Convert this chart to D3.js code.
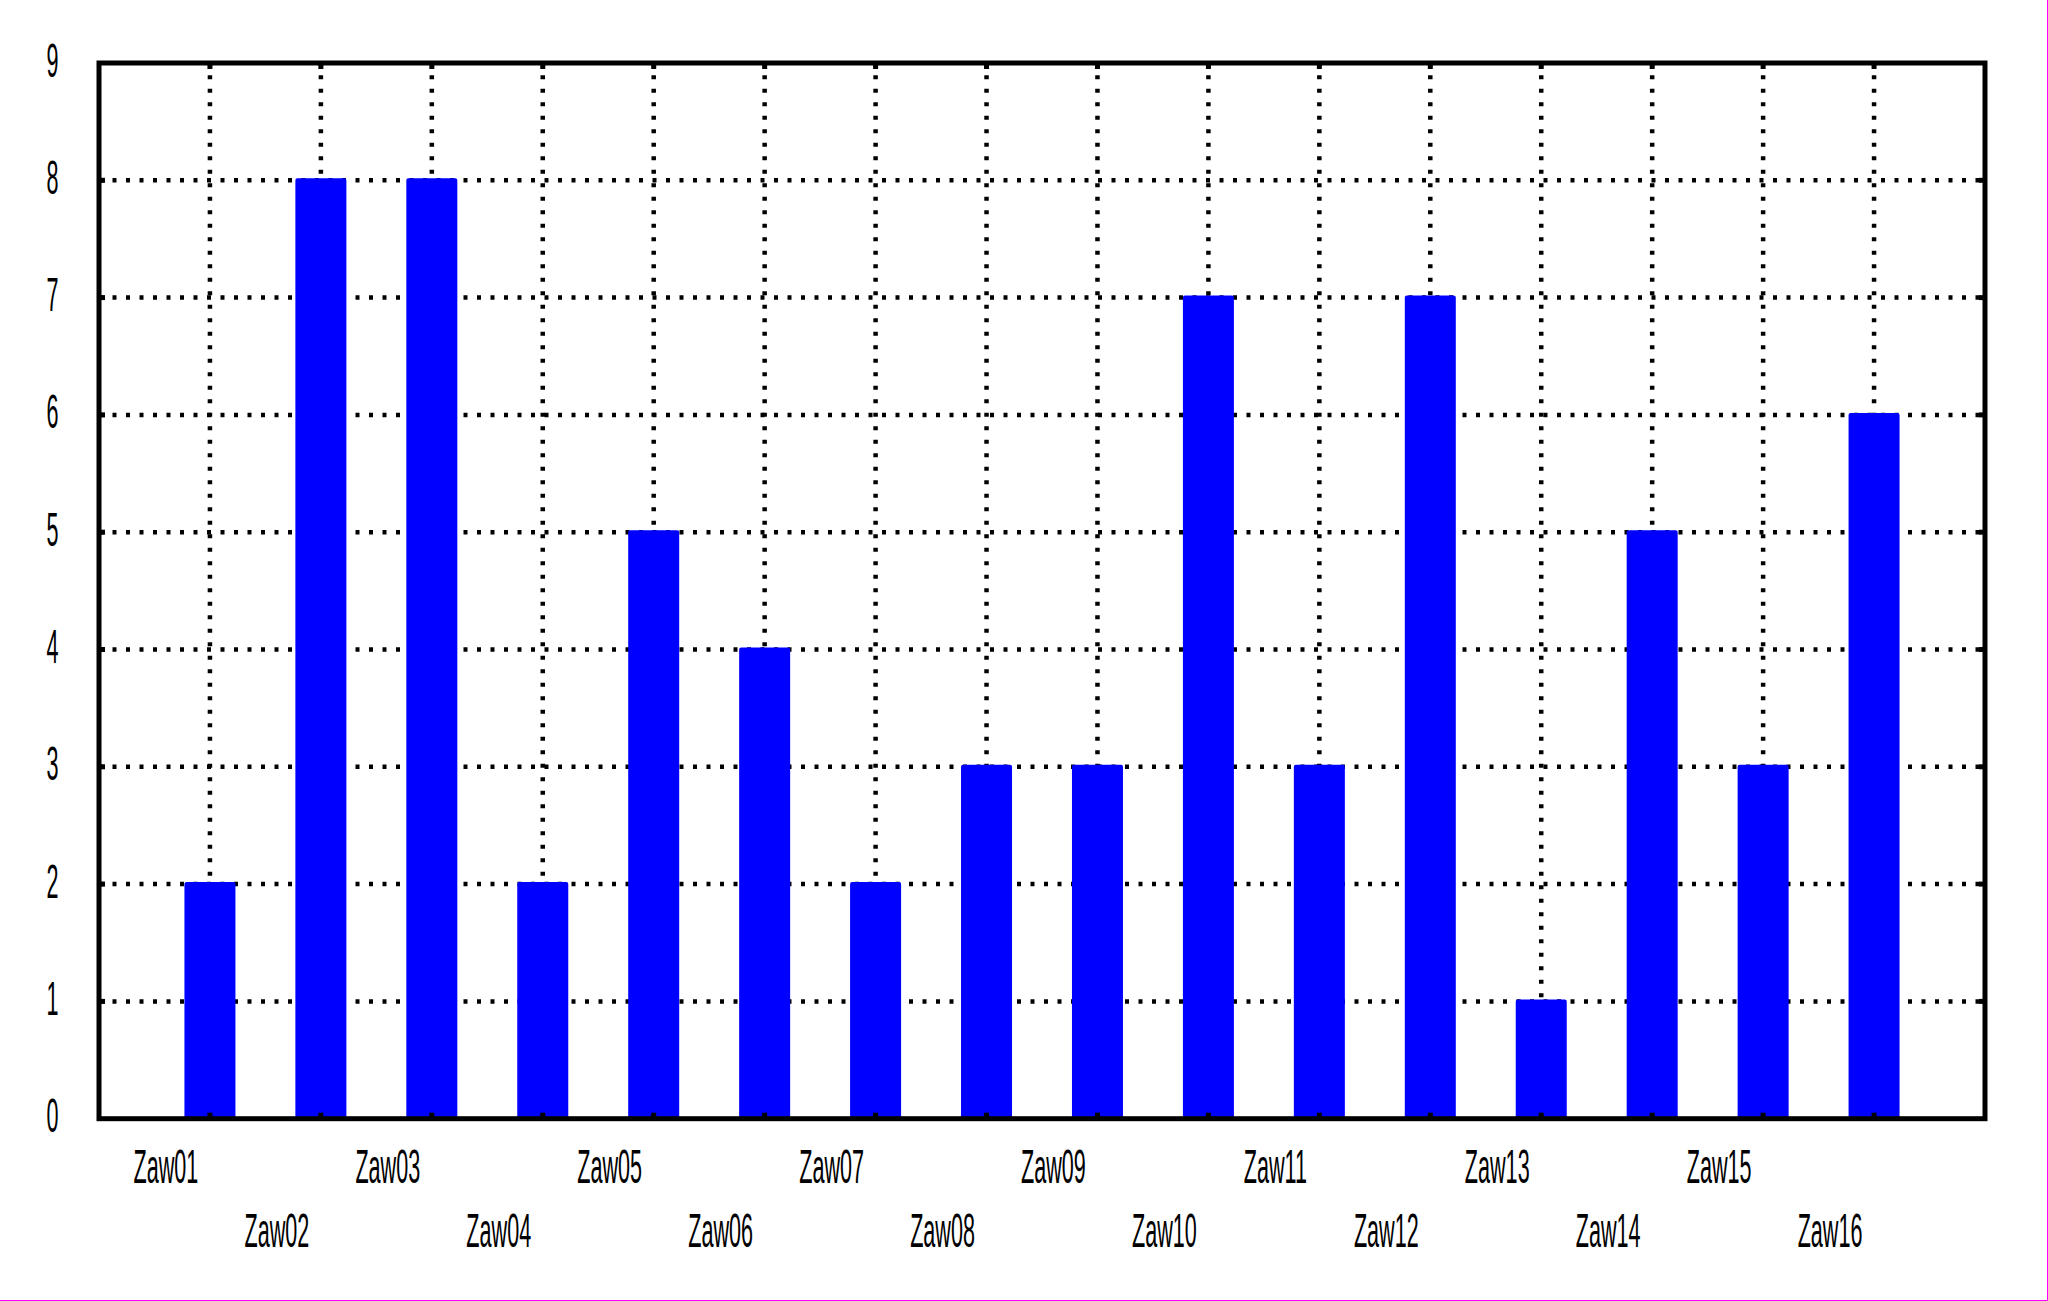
<!DOCTYPE html>
<html>
<head>
<meta charset="utf-8">
<script src="https://cdn.jsdelivr.net/npm/d3@7"></script>
<style>
  html, body { margin: 0; padding: 0; background: #ffffff; }
  svg { display: block; }
</style>
</head>
<body>
<script>
const categories = ["Zaw01","Zaw02","Zaw03","Zaw04","Zaw05","Zaw06","Zaw07","Zaw08",
                    "Zaw09","Zaw10","Zaw11","Zaw12","Zaw13","Zaw14","Zaw15","Zaw16"];
const values = [2, 8, 8, 2, 5, 4, 2, 3, 3, 7, 3, 7, 1, 5, 3, 6];
const yTicks = [0, 1, 2, 3, 4, 5, 6, 7, 8, 9];

(function () {
const W = 2048, H = 1301;
const pL = 99, pR = 1985, pT = 63, pB = 1118.7;

const svg = d3.select("body").append("svg").attr("width", W).attr("height", H);
svg.append("rect").attr("x", 0).attr("y", 0).attr("width", W).attr("height", H).attr("fill", "#fff");

const x = d3.scaleLinear().domain([0, categories.length + 1]).range([pL, pR]);
const y = d3.scaleLinear().domain([0, 9]).range([pB, pT]);

const dash = "4 9.5";
// horizontal grid
svg.append("g").selectAll("line").data(yTicks.filter(d => d > 0 && d < 9)).join("line")
  .attr("x1", pL).attr("x2", pR)
  .attr("y1", d => y(d)).attr("y2", d => y(d))
  .attr("stroke", "#000").attr("stroke-width", 4.5).attr("stroke-dasharray", dash);
// vertical grid
svg.append("g").selectAll("line").data(categories).join("line")
  .attr("x1", (d, i) => x(i + 1)).attr("x2", (d, i) => x(i + 1))
  .attr("y1", pB).attr("y2", pT)
  .attr("stroke", "#000").attr("stroke-width", 4.5).attr("stroke-dasharray", dash);

// bars
const bw = 47;
svg.append("g").selectAll("rect").data(values).join("rect")
  .attr("x", (d, i) => x(i + 1) - bw / 2)
  .attr("y", d => y(d))
  .attr("width", bw)
  .attr("height", d => pB - y(d))
  .attr("fill", "#0000ff").attr("stroke", "#0000ff")
  .attr("stroke-width", 4).attr("stroke-linejoin", "round");

// inward ticks
const tk = svg.append("g").attr("stroke", "#000").attr("stroke-width", 5);
categories.forEach((c, i) => {
  tk.append("line").attr("x1", x(i + 1)).attr("x2", x(i + 1)).attr("y1", pB).attr("y2", pB - 6);
  tk.append("line").attr("x1", x(i + 1)).attr("x2", x(i + 1)).attr("y1", pT).attr("y2", pT + 6);
});
yTicks.filter(d => d > 0 && d < 9).forEach(d => {
  tk.append("line").attr("x1", pL).attr("x2", pL + 6).attr("y1", y(d)).attr("y2", y(d));
  tk.append("line").attr("x1", pR).attr("x2", pR - 6).attr("y1", y(d)).attr("y2", y(d));
});

// frame
svg.append("rect").attr("x", pL).attr("y", pT).attr("width", pR - pL).attr("height", pB - pT)
  .attr("fill", "none").attr("stroke", "#000").attr("stroke-width", 5);

const font = "'Liberation Sans', Arial, sans-serif";
// y labels
svg.append("g").selectAll("text").data(yTicks).join("text")
  .attr("transform", d => `translate(52.5,${y(d) + 13.5}) scale(0.45,1)`)
  .attr("text-anchor", "middle").attr("font-family", font).attr("font-size", 48)
  .attr("fill", "#000").text(d => d);

// x labels (staggered)
svg.append("g").selectAll("text").data(categories).join("text")
  .attr("transform", (d, i) => `translate(${x(i + 1) - 44},${i % 2 === 0 ? 1183.3 : 1246.7}) scale(0.45,1)`)
  .attr("text-anchor", "middle").attr("font-family", font).attr("font-size", 48)
  .attr("fill", "#000").text(d => d);

// outer border
svg.append("line").attr("x1", 0).attr("x2", W).attr("y1", H - 0.5).attr("y2", H - 0.5)
  .attr("stroke", "#ff00ff").attr("stroke-width", 1);
svg.append("line").attr("x1", W - 0.5).attr("x2", W - 0.5).attr("y1", 0).attr("y2", H)
  .attr("stroke", "#ff00ff").attr("stroke-width", 1);
})();
</script>
</body>
</html>
